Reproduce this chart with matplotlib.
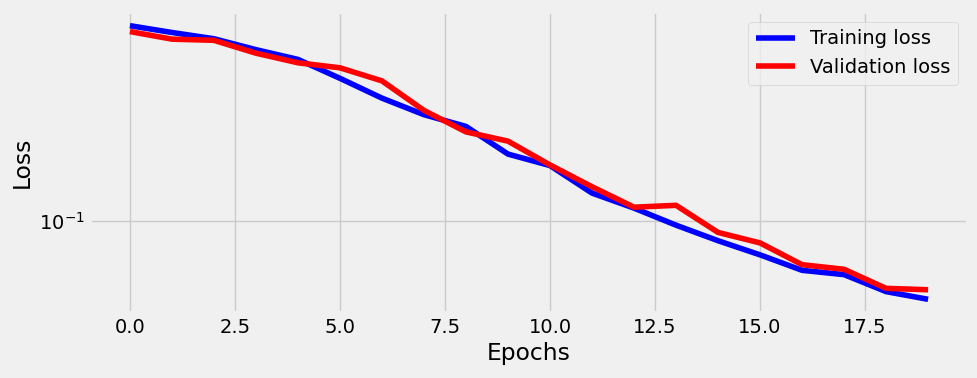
import matplotlib
matplotlib.use("Agg")
import matplotlib.pyplot as plt

# valores
epochs = list(range(20))
train_loss = [0.619, 0.581, 0.548, 0.495, 0.452, 0.379, 0.315, 0.270, 0.242, 0.187,
              0.168, 0.130, 0.113, 0.0964, 0.0834, 0.0731, 0.0633, 0.0608, 0.0519, 0.0483]
val_loss = [0.586, 0.546, 0.540, 0.479, 0.438, 0.418, 0.370, 0.281, 0.230, 0.211,
            0.169, 0.138, 0.114, 0.116, 0.0901, 0.0817, 0.0667, 0.0639, 0.0535, 0.0528]

plt.style.use("fivethirtyeight")

fig = plt.figure(figsize=(9.77, 3.78), dpi=100)
ax = fig.add_axes([90 / 977, 1 - 313 / 378, (968 - 90) / 977, (313 - 12) / 378])

ax.plot(epochs, train_loss, "b", label="Training loss")
ax.plot(epochs, val_loss, "r", label="Validation loss")
ax.set_yscale("log")
ax.set_xlabel("Epochs")
ax.set_ylabel("Loss")
ax.legend()

fig.savefig("out.png", dpi=100)
